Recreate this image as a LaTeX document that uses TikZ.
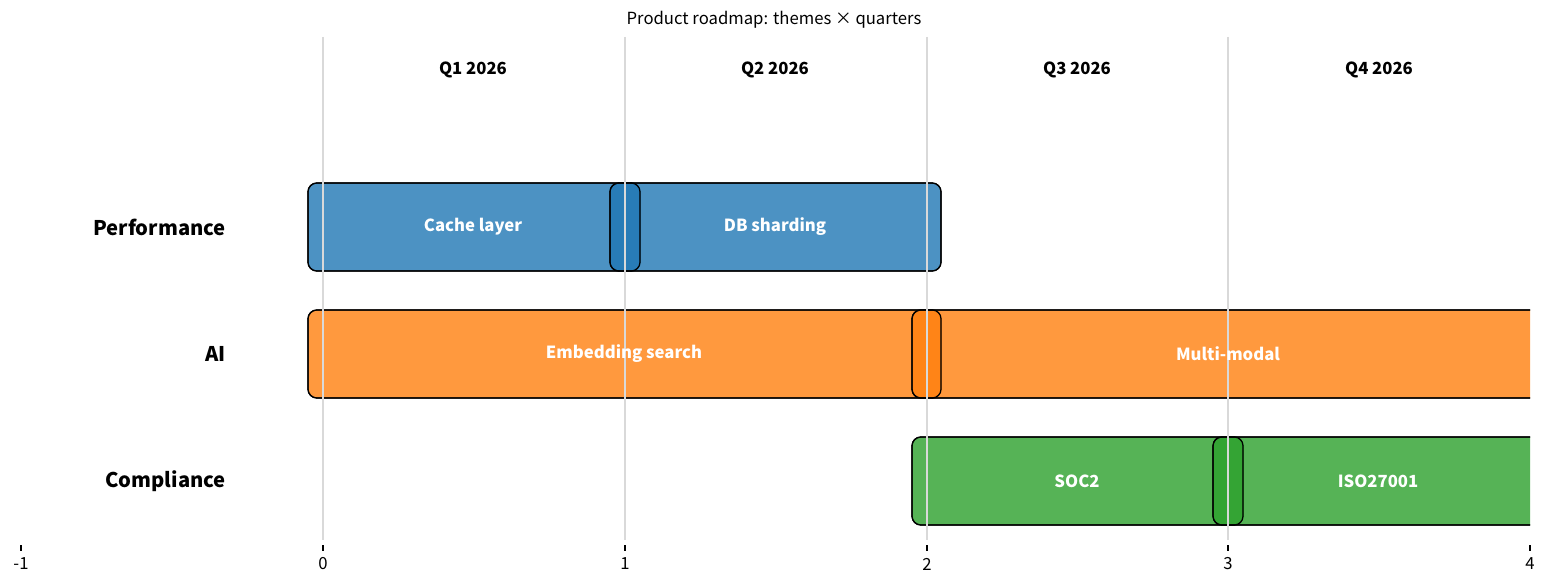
\documentclass[tikz,border=0pt]{standalone}
\usepackage{fontspec}
\setmainfont{Noto Sans CJK JP}
\begin{document}
\begin{tikzpicture}[x=0.02cm,y=-0.02cm,
 bar/.style={draw=black,line width=0.7pt,rounded corners=5pt,fill opacity=0.8,draw opacity=1},
 bl/.style={text=white,font=\bfseries\fontsize{9.5}{11}\selectfont},
 ql/.style={font=\bfseries\fontsize{9.5}{11}\selectfont},
 rl/.style={font=\bfseries\fontsize{11.5}{13}\selectfont,anchor=east},
 tl/.style={font=\fontsize{9.5}{11}\selectfont},
 grid/.style={draw=black!15,line width=1.2pt}]
\useasboundingbox (0,0) rectangle (1547,587);
\begin{scope}
\clip (0,30) rectangle (1530,545);
\fill[bar,fill={rgb,255:red,31;green,119;blue,180}] (308,183) rectangle (640,271);
\fill[bar,fill={rgb,255:red,31;green,119;blue,180}] (610,183) rectangle (941,271);
\draw[bar] (308,183) rectangle (640,271);
\draw[bar] (610,183) rectangle (941,271);
\fill[bar,fill={rgb,255:red,255;green,127;blue,14}] (308,310) rectangle (941,398);
\fill[bar,fill={rgb,255:red,255;green,127;blue,14}] (912,310) rectangle (1560,398);
\draw[bar] (308,310) rectangle (941,398);
\draw[bar] (912,310) rectangle (1560,398);
\fill[bar,fill={rgb,255:red,44;green,160;blue,44}] (912,437) rectangle (1243,525);
\fill[bar,fill={rgb,255:red,44;green,160;blue,44}] (1213,437) rectangle (1560,525);
\draw[bar] (912,437) rectangle (1243,525);
\draw[bar] (1213,437) rectangle (1560,525);
\end{scope}
\foreach \x in {323,625,927,1228} \draw[grid] (\x,37) -- (\x,540);
\node[bl] (c) at (473,227) {Cache layer};
\node[bl] (d) at (775,227) {DB sharding};
\node[bl] (e) at (624,354) {Embedding search};
\node[bl] (m) at (1228,354) {Multi-modal};
\node[bl] (s) at (1077,481) {SOC2};
\node[bl] (i) at (1378,481) {ISO27001};
\node[ql] (q1) at (473,70) {Q1 2026};
\node[ql] (q2) at (775,70) {Q2 2026};
\node[ql] (q3) at (1077,70) {Q3 2026};
\node[ql] (q4) at (1379,70) {Q4 2026};
\node[rl] (r1) at (232,227) {Performance};
\node[rl] (r2) at (232,354) {AI};
\node[rl] (r3) at (232,481) {Compliance};
\node[tl] (t) at (774,20) {Product roadmap: themes × quarters};
\foreach \x/\l in {21/-1,323/0,625/1,927/2,1228/3,1530/4}{
 \draw[line width=0.6pt] (\x,545) -- (\x,551);
 \node[tl] at (\x,564) {\l};}
\end{tikzpicture}
\end{document}
